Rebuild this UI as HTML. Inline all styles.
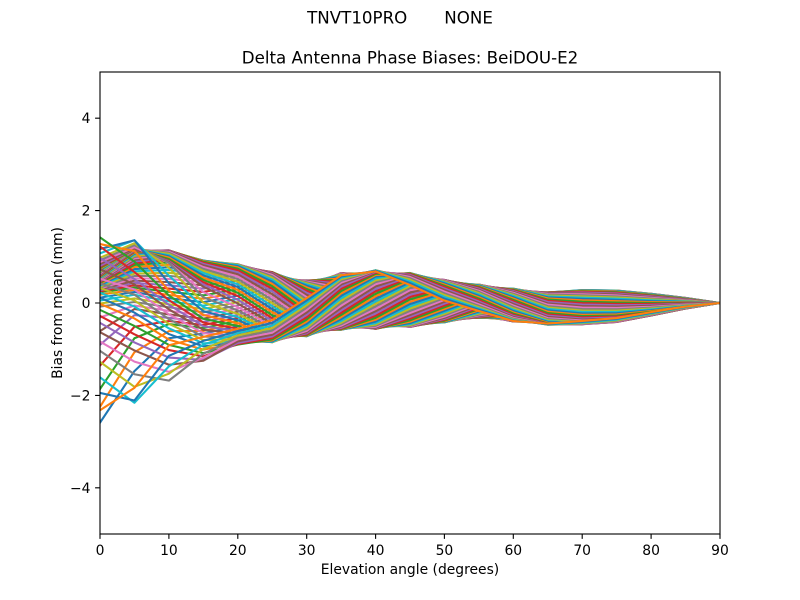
<!DOCTYPE html>
<html><head><meta charset="utf-8">
<style>
html,body{margin:0;padding:0;background:#fff;}
svg{display:block;}
text{font-family:"DejaVu Sans","Liberation Sans",sans-serif;fill:#000;}
</style></head><body>
<svg id="s" width="800" height="600" viewBox="0 0 800 600" xmlns="http://www.w3.org/2000/svg">
<rect width="800" height="600" fill="#fff"/>
<defs><clipPath id="c"><rect x="100" y="72" width="620" height="462"/></clipPath></defs>
<g id="lines" clip-path="url(#c)" fill="none" stroke-width="2.08" stroke-linejoin="round" stroke-linecap="square"></g>
<g stroke="#000" stroke-width="1.11" fill="none">
<rect x="100" y="72" width="620" height="462"/>
<path d="M100 534V538.9M168.9 534V538.9M237.8 534V538.9M306.7 534V538.9M375.6 534V538.9M444.4 534V538.9M513.3 534V538.9M582.2 534V538.9M651.1 534V538.9M720 534V538.9"/>
<path d="M95.1 487.8H100M95.1 395.4H100M95.1 303H100M95.1 210.6H100M95.1 118.2H100"/>
</g>
<g font-size="13.89" text-anchor="middle">
<text x="100" y="555">0</text>
<text x="168.9" y="555">10</text>
<text x="237.8" y="555">20</text>
<text x="306.7" y="555">30</text>
<text x="375.6" y="555">40</text>
<text x="444.4" y="555">50</text>
<text x="513.3" y="555">60</text>
<text x="582.2" y="555">70</text>
<text x="651.1" y="555">80</text>
<text x="720" y="555">90</text>
</g>
<g font-size="13.89" text-anchor="end">
<text x="90.5" y="492.8">−4</text>
<text x="90.5" y="400.4">−2</text>
<text x="90.5" y="308">0</text>
<text x="90.5" y="215.6">2</text>
<text x="90.5" y="123.2">4</text>
</g>
<text x="410" y="574" font-size="13.89" text-anchor="middle">Elevation angle (degrees)</text>
<text transform="translate(62,303) rotate(-90)" font-size="13.89" text-anchor="middle">Bias from mean (mm)</text>
<text x="410" y="63.7" font-size="16.67" text-anchor="middle">Delta Antenna Phase Biases: BeiDOU-E2</text>
<text x="400" y="23.3" font-size="16.67" text-anchor="middle" style="white-space:pre" xml:space="preserve">TNVT10PRO       NONE</text>
</svg>
<script>
(function(){
var U=[1.42,1.36,1.14,0.92,0.84,0.67,0.49,0.65,0.71,0.65,0.50,0.40,0.31,0.23,0.28,0.27,0.20,0.11,0];
var L=[-2.59,-2.16,-1.68,-1.25,-0.90,-0.85,-0.72,-0.58,-0.56,-0.52,-0.42,-0.32,-0.40,-0.47,-0.46,-0.41,-0.27,-0.12,0];
var PHI=[0,-12,-24,-36,-48,-72,-115,-160,-200,-240,-272,-310,-350,-385,-400,-405,-410,-415,-420];
var gx=[0,10,20,35,60,120,180,220,240,255,262,270,280,300,320,340,355,360];
var gh=[-0.02,0.15,0.40,0.62,0.70,0.76,0.80,0.84,0.88,0.95,1,0.9,0.78,0.68,0.55,0.35,0.1,-0.02];
function G0(x){x=((x%360)+360)%360;for(var k=1;k<gx.length;k++){if(x<=gx[k]){var t=(x-gx[k-1])/(gx[k]-gx[k-1]);return gh[k-1]+t*(gh[k]-gh[k-1]);}}return gh[0];}
var W=[1,0.8,0.55,0.3,0.1];
var cols=['#1f77b4','#ff7f0e','#2ca02c','#d62728','#9467bd','#8c564b','#e377c2','#7f7f7f','#bcbd22','#17becf'];
var g=document.getElementById('lines');
var ns='http://www.w3.org/2000/svg';
var N=72, H=[];
for(var j=0;j<19;j++){
  var row=[],mn=1e9,mx=-1e9;
  for(var i=0;i<N;i++){
    var xd=i*5-PHI[j]+1.3;
    var hc=(1-Math.cos(xd*Math.PI/180))/2;
    var w=j<5?W[j]:0;
    var h=w*G0(xd)+(1-w)*hc;
    row.push(h); if(h<mn)mn=h; if(h>mx)mx=h;
  }
  for(var i=0;i<N;i++) row[i]=(row[i]-mn)/(mx-mn);
  H.push(row);
}
for(var i=0;i<N;i++){
  var pts=[];
  for(var j=0;j<19;j++){
    var v=L[j]+(U[j]-L[j])*H[j][i];
    var px=100+j*5*620/90, py=303-v*46.2;
    pts.push(px.toFixed(2)+','+py.toFixed(2));
  }
  var p=document.createElementNS(ns,'polyline');
  p.setAttribute('points',pts.join(' '));
  p.setAttribute('stroke',cols[i%10]);
  g.appendChild(p);
}
})();
</script>
</body></html>
